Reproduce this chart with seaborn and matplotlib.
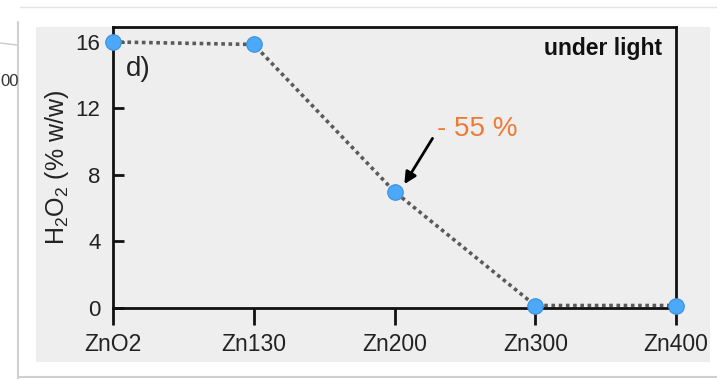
import matplotlib
matplotlib.use("Agg")
import matplotlib.pyplot as plt
import seaborn as sns
import pandas as pd
from matplotlib.patches import Rectangle
from matplotlib.lines import Line2D

samples = ["ZnO2", "Zn130", "Zn200", "Zn300", "Zn400"]
h2o2 = [16.0, 15.85, 7.0, 0.15, 0.15]
yticks = [0, 4, 8, 12, 16]

df = pd.DataFrame({"sample": samples, "h2o2": h2o2})

sns.set_style("white")
plt.rcParams["font.family"] = ["Liberation Sans", "DejaVu Sans"]
plt.rcParams["mathtext.default"] = "regular"

W, H = 717, 379
fig = plt.figure(figsize=(W / 100, H / 100), dpi=100, facecolor="white")

def fx(px):
    return px / W

def fy(py):
    return 1 - py / H

# card/panel background
fig.patches.append(Rectangle((fx(36), fy(362)), fx(710) - fx(36), fy(27) - fy(362),
                             transform=fig.transFigure, facecolor="#eeeeee",
                             edgecolor="none", zorder=-5))
fig.lines.append(Line2D([fx(18), fx(18)], [fy(379), fy(22)], transform=fig.transFigure,
                        color="#d0d0d0", lw=1.5, zorder=-4))
fig.lines.append(Line2D([fx(18), fx(717)], [fy(377), fy(377)], transform=fig.transFigure,
                        color="#d0d0d0", lw=1.5, zorder=-4))
fig.lines.append(Line2D([fx(20), fx(717)], [fy(7), fy(7)], transform=fig.transFigure,
                        color="#e4e4e4", lw=1, zorder=-4))
fig.lines.append(Line2D([fx(0), fx(17)], [fy(43), fy(45)], transform=fig.transFigure,
                        color="#cccccc", lw=1, zorder=-4))
fig.text(fx(0.5), fy(82), "00", fontsize=12, color="#333333", va="center", ha="left")

ax = fig.add_axes([fx(113), fy(308), fx(676) - fx(113), fy(27) - fy(308)])
ax.set_zorder(5)
ax.set_facecolor("#eeeeee")

sns.lineplot(data=df, x="sample", y="h2o2", sort=False, ax=ax, color="#5a5a5a",
             lw=2.6, linestyle=(0, (1, 1.0)), zorder=2)
sns.scatterplot(data=df, x="sample", y="h2o2", ax=ax, s=125, color="#4ca8f8",
                edgecolor="#3a90e0", linewidth=0.8, zorder=5, clip_on=False)

ax.set_xlim(0, len(samples) - 1)
ax.set_ylim(0, 16.9)
ax.set_yticks(yticks)
ax.set_yticklabels([str(v) for v in yticks])
ax.set_xlabel("")
ax.set_ylabel("H$_2$O$_2$ (% w/w)", fontsize=18, color="#222222", labelpad=3)

for s in ax.spines.values():
    s.set_color("#111111")
    s.set_linewidth(2)

ax.tick_params(axis="y", direction="in", length=8, width=2, labelsize=16,
               colors="#111111", labelcolor="#222222", pad=9, left=True)
ax.tick_params(axis="x", direction="out", length=12, width=2, labelsize=16.5,
               colors="#111111", labelcolor="#222222", pad=6, bottom=True)

ax.text(0.09, 14.4, "d)", fontsize=20, color="#222222", ha="left", va="center")
ax.text(0.975, 0.924, "under light", transform=ax.transAxes, fontsize=16.5,
        fontweight="bold", color="#111111", ha="right", va="center")
ax.text(2.305, 10.75, "- 55 %", fontsize=20, color="#f07a35", ha="left", va="center")
ax.annotate("", xy=(2.07, 7.45), xytext=(2.27, 10.2),
            arrowprops=dict(arrowstyle="-|>,head_length=0.7,head_width=0.35",
                            color="black", lw=2, shrinkA=0, shrinkB=0))

fig.savefig("out.png", dpi=100, facecolor="white")
